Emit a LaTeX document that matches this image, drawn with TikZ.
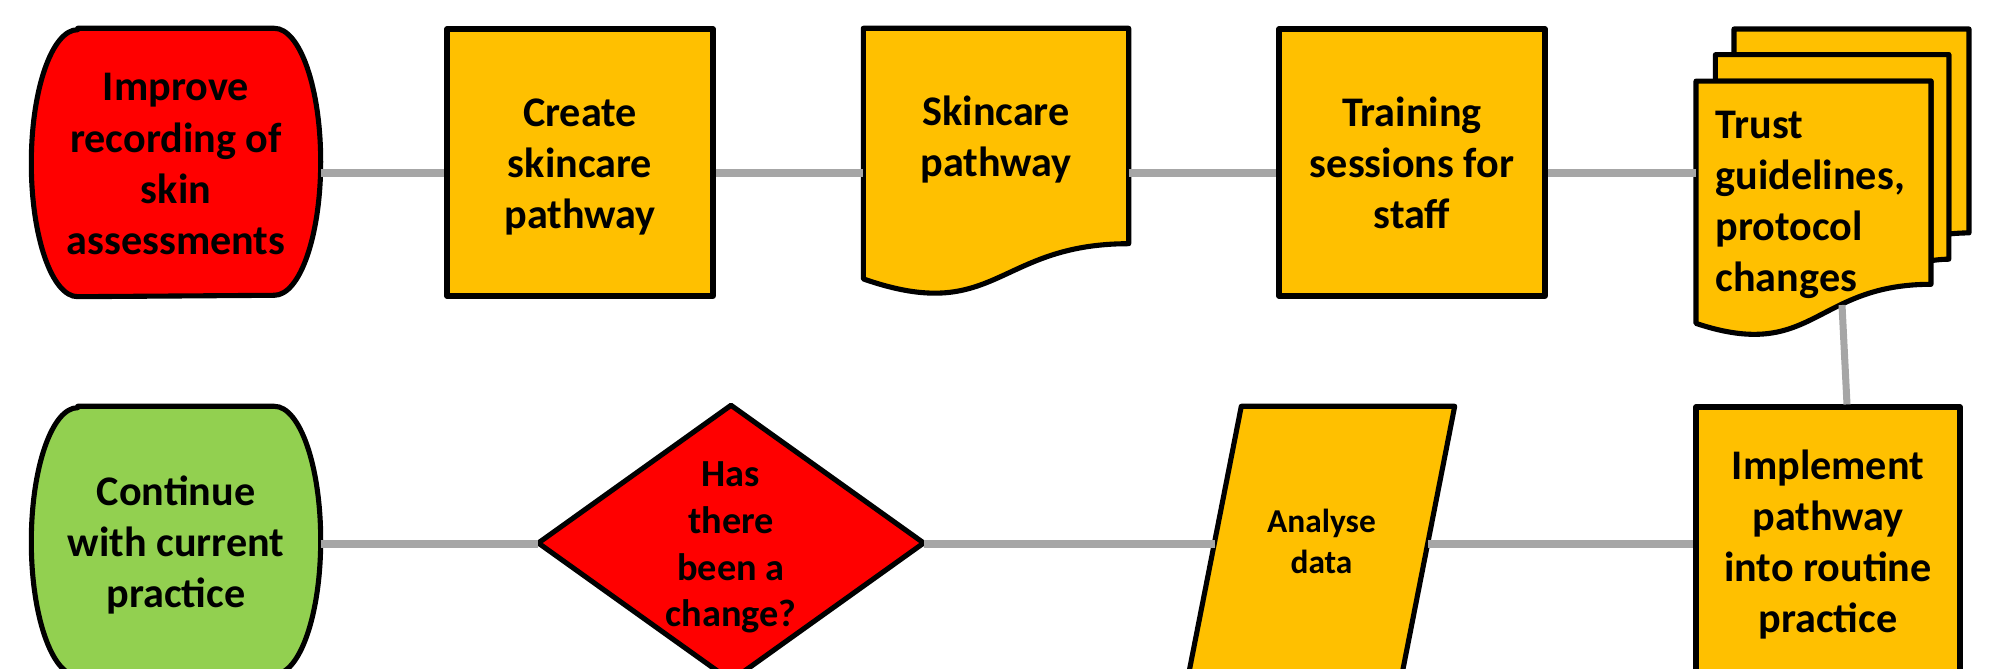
\documentclass[tikz,border=0pt]{standalone}
\usepackage{fontspec}
\setmainfont{Carlito}
\usetikzlibrary{backgrounds}

\definecolor{stopred}{HTML}{FF0000}
\definecolor{stepamber}{HTML}{FFC000}
\definecolor{gogreen}{HTML}{92D050}
\definecolor{linkgrey}{HTML}{A6A6A6}

% line boxes as the slide software sets them
\newcommand\linetop{\rule{0pt}{0.97em}}
\newcommand\linebot{\rule[-0.25em]{0pt}{0.25em}}

\begin{document}
\begin{tikzpicture}[x=0.1mm,y=0.1mm,
  outline/.style={draw=black,line width=1.45pt,line join=round},
  box/.style={outline,fill=stepamber},
  txt/.style={font=\bfseries\fontsize{12}{14.55}\selectfont,align=center,inner sep=0pt},
  link/.style={draw=linkgrey,line width=2pt}]
  \useasboundingbox (0,0) rectangle (1992,669);

  % top row
  \node[txt,minimum width=28.8mm,minimum height=26.7mm] (improve) at (176,506.5) {\linetop Improve\\recording of\\skin\\assessments\linebot};
  \node[txt,box,minimum width=26.6mm,minimum height=26.7mm] (create) at (580,506.5) {\linetop Create\\skincare\\pathway\linebot};
  \node[txt,minimum width=26.4mm,minimum height=21.4mm] (pathdoc) at (996,533) {\linetop Skincare\\pathway\linebot};
  \node[txt,box,minimum width=26.6mm,minimum height=26.7mm] (training) at (1412,506.5) {\linetop Training\\sessions for\\staff\linebot};
  \node[txt,align=left,anchor=west,inner xsep=1.9mm] (trust) at (1696,469) {\linetop Trust\\guidelines,\\protocol\\changes\linebot};

  % bottom row
  \node[txt,minimum width=28.8mm,minimum height=26.8mm] (continue) at (176,128) {\linetop Continue\\with current\\practice\linebot};
  \node[txt,font=\bfseries\fontsize{10.9}{13.3}\selectfont,minimum width=38.4mm,minimum height=27.4mm] (change) at (731,126) {\linetop Has\\there\\been a\\change?\linebot};
  \node[txt,font=\bfseries\fontsize{9.5}{11.4}\selectfont,minimum width=21.2mm,minimum height=26.8mm] (analyse) at (1321.5,128) {\linetop Analyse\\data\linebot};
  \node[txt,box,minimum width=26.4mm,minimum height=26.8mm] (implement) at (1828,128) {\linetop Implement\\pathway\\into routine\\practice\linebot};

  \begin{scope}[on background layer]
    \draw[outline,fill=stopred] ([xshift=4.64mm]improve.north west) -- ([xshift=-4.64mm]improve.north east)
      arc[start angle=90,end angle=-90,x radius=4.64mm,y radius=13.35mm]
      -- ([xshift=4.64mm]improve.south west)
      arc[start angle=270,end angle=90,x radius=4.64mm,y radius=13.35mm] -- cycle;
    \draw[outline,fill=gogreen] ([xshift=4.64mm]continue.north west) -- ([xshift=-4.64mm]continue.north east)
      arc[start angle=90,end angle=-90,x radius=4.64mm,y radius=13.4mm]
      -- ([xshift=4.64mm]continue.south west)
      arc[start angle=270,end angle=90,x radius=4.64mm,y radius=13.4mm] -- cycle;
    \draw[box] (pathdoc.north west) -- (pathdoc.north east) -- (pathdoc.south east)
      .. controls (pathdoc.south) and ([yshift=-8.16mm]pathdoc.south) .. ([yshift=-3.52mm]pathdoc.south west) -- cycle;
    % stacked pages
    \draw[box] (1734,614.3) -- (1734,640) -- (1969,640) -- (1969,436.1)
      .. controls (1958.9,436.1) and (1948.8,435) .. (1948.8,435) -- (1948.8,614.3) -- cycle;
    \draw[box] (1715.4,587.9) -- (1715.4,614.3) -- (1948.8,614.3) -- (1948.8,409.8)
      .. controls (1939.9,409.8) and (1931,408.3) .. (1931,408.3) -- (1931,587.9) -- cycle;
    \draw[box] (1696,345.6) .. controls (1813.5,306.5) and (1813.5,384.7) .. (1931,384.7)
      -- (1931,587.9) -- (1696,587.9) -- cycle;
    \draw[outline,fill=stopred] (change.north) -- (change.east) -- (change.south) -- (change.west) -- cycle;
    \draw[box] ([xshift=2.65mm]analyse.north west) -- ([xshift=2.65mm]analyse.north east)
      -- ([xshift=-2.65mm]analyse.south east) -- ([xshift=-2.65mm]analyse.south west) -- cycle;
  \end{scope}

  \coordinate (row1) at (0,496);
  \coordinate (row2) at (0,125);
  \coordinate (trustfoot) at (1842,364);
  \draw[link] (improve.east |- row1) -- (create.west |- row1);
  \draw[link] (create.east |- row1) -- (pathdoc.west |- row1);
  \draw[link] (pathdoc.east |- row1) -- (training.west |- row1);
  \draw[link] (training.east |- row1) -- (trust.west |- row1);
  \draw[link] ([xshift=1.9mm]implement.north) -- (trustfoot);
  \draw[link] (continue.east |- row2) -- (change.west |- row2);
  \draw[link] (change.east |- row2) -- (analyse.west |- row2);
  \draw[link] (analyse.east |- row2) -- (implement.west |- row2);
\end{tikzpicture}
\end{document}
